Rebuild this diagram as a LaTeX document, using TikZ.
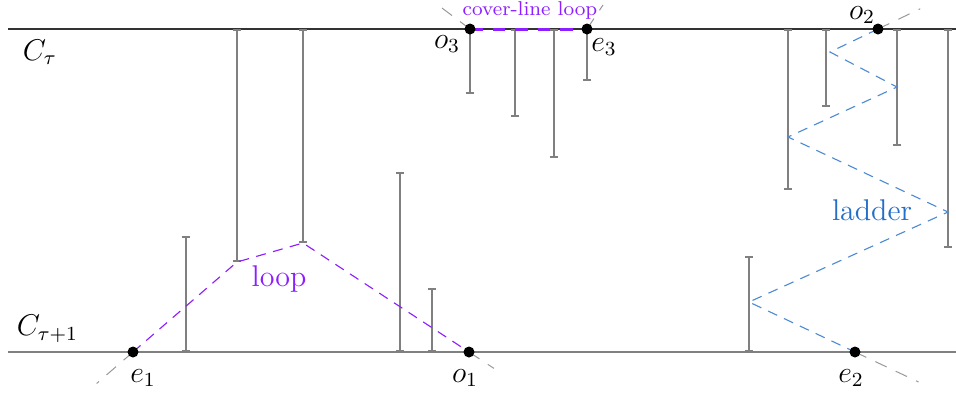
\documentclass[tikz,border=0pt]{standalone}
\usetikzlibrary{arrows.meta,calc}
\definecolor{loopviolet}{RGB}{140,30,255}
\definecolor{ladderblue}{RGB}{35,110,200}
\tikzset{>=latex,
  chain/.style={black!80,line width=0.45pt},
  interval/.style={gray,line width=0.65pt,{Bar[width=3.2pt]}-{Bar[width=3.2pt]}},
  endpt/.style={circle,fill=black,inner sep=0pt,minimum size=4.4pt},
  ext/.style={gray!80,line width=0.4pt,dash pattern=on 5pt off 4pt},
  loopline/.style={loopviolet,line width=0.45pt,dash pattern=on 4pt off 3pt},
  coverline/.style={loopviolet,line width=1.2pt,dash pattern=on 5pt off 4pt},
  ladderline/.style={ladderblue!80,line width=0.45pt,dash pattern=on 4pt off 3pt},
  lbl/.style={font=\large}
}
\begin{document}
\begin{tikzpicture}[x=0.4pt,y=-0.4pt]
  \useasboundingbox (0,0) rectangle (956,396);
  % the two chains
  \coordinate (TL) at (8,29);
  \coordinate (TR) at (956,29);
  \coordinate (BL) at (8,352);
  \coordinate (BR) at (956,352);
  \draw[chain] (TL) -- (TR);
  \draw[chain,gray] (BL) -- (BR);
  \node[lbl,anchor=west] (Ctau) at (14,52) {$C_\tau$};
  \node[lbl,anchor=south west] (Ctaunext) at (8,351) {$C_{\tau+1}$};
  % intervals hanging from the chains
  \foreach \x/\y in {237/262,303/243,470/94,515/117,554/158,587/81,788/190,826/107,897/146,948/248}
    \draw[interval] (\x,29) -- (\x,\y);
  \foreach \x/\y in {186/236,400/172,432/288,749/256}
    \draw[interval] (\x,352) -- (\x,\y);
  % loop
  \coordinate (e1) at (133,352);
  \coordinate (o1) at (469,352);
  \draw[loopline] (e1) -- (237,262) coordinate (L1) -- (303,243) coordinate (L2) -- (o1);
  \draw[ext] (e1) -- ($(e1)!-0.35!(L1)$);
  \draw[ext] (o1) -- ($(o1)!-0.15!(L2)$);
  \node[lbl,text=loopviolet] (looplbl) at (279,279) {loop};
  % cover-line loop
  \coordinate (o3) at (470,29);
  \coordinate (e3) at (587,29);
  \draw[coverline] (o3) -- (e3);
  \draw[ext] (o3) -- ++(-32,-24);
  \draw[ext] (e3) -- ++(16,-24);
  \node[font=\footnotesize,text=loopviolet] (coverlbl) at (530,10) {cover-line loop};
  % ladder
  \coordinate (o2) at (878,29);
  \coordinate (e2) at (855,352);
  \draw[ladderline] (o2) -- (830,52) coordinate (R1) -- (897,87) coordinate (R2)
    -- (788,137) coordinate (R3) -- (948,212) coordinate (R4)
    -- (749,302) coordinate (R5) -- (e2);
  \draw[ext] (o2) -- ($(o2)!-0.88!(R1)$);
  \draw[ext] (e2) -- ($(e2)!-0.6!(R5)$);
  \node[lbl,text=ladderblue] (ladderlbl) at (872,210) {ladder};
  % end points
  \foreach \p in {e1,o1,o3,e3,o2,e2}
    \node[endpt] (dot-\p) at (\p) {};
  \node[lbl] (e1lbl) at (143,378) {$e_1$};
  \node[lbl] (o1lbl) at (465,378) {$o_1$};
  \node[lbl] (o3lbl) at (447,44) {$o_3$};
  \node[lbl] (e3lbl) at (604,47) {$e_3$};
  \node[lbl,inner sep=0pt] (o2lbl) at (862,15) {$o_2$};
  \node[lbl] (e2lbl) at (851,378) {$e_2$};
\end{tikzpicture}
\end{document}
